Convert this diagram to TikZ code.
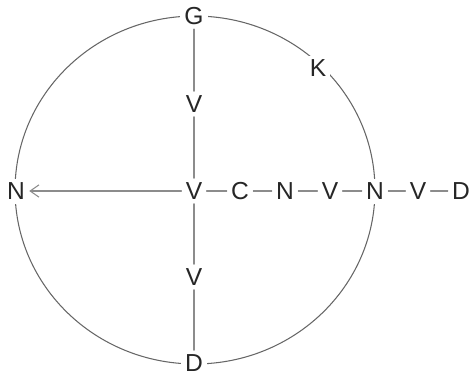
\documentclass[tikz,border=0pt]{standalone}
\usepackage{fontspec}
\setmainfont{Liberation Sans}
\usetikzlibrary{arrows.meta}
\tikzset{
  lbl/.style={fill=white,inner sep=2.3pt,text=black!85,font=\fontsize{14}{16}\selectfont},
  bond/.style={line width=0.6pt,draw=black!45},
}
\begin{document}
\begin{tikzpicture}[x=0.02cm,y=-0.02cm,line cap=round,line join=round]
\useasboundingbox (0,0) rectangle (472,379);
\draw[line width=0.6pt,black!60] (195,190) ellipse [x radius=3.6cm,y radius=3.48cm];
\node[lbl] (V0) at (194,191) {V};
\node[lbl] (G) at (194,16) {G};
\node[lbl] (Vt) at (194,104) {V};
\node[lbl] (Vb) at (194,277) {V};
\node[lbl] (D) at (194,363) {D};
\node[lbl] (Nl) at (16,191) {N};
\node[lbl] (K) at (318,68) {K};
\node[lbl] (C) at (240,191) {C};
\node[lbl] (N1) at (285,191) {N};
\node[lbl] (V1) at (330,191) {V};
\node[lbl] (N2) at (375,191) {N};
\node[lbl] (V2) at (418,191) {V};
\node[lbl] (D2) at (461,191) {D};
\draw[bond] (G) -- (Vt);
\draw[bond] (Vt) -- (V0);
\draw[bond] (V0) -- (Vb);
\draw[bond] (Vb) -- (D);
\draw[bond,-{Straight Barb[length=5pt,width=7pt]}] (V0) -- (Nl);
\draw[bond] (V0) -- (C);
\draw[bond] (C) -- (N1);
\draw[bond] (N1) -- (V1);
\draw[bond] (V1) -- (N2);
\draw[bond] (N2) -- (V2);
\draw[bond] (V2) -- (D2);
\end{tikzpicture}
\end{document}
